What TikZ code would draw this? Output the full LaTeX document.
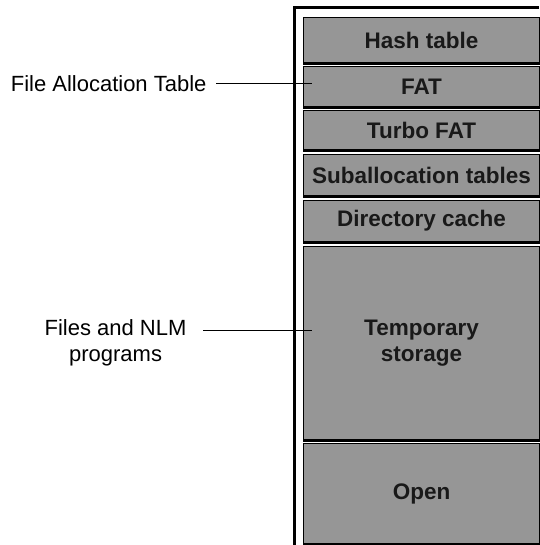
\documentclass[tikz,border=0pt]{standalone}
\usepackage{fontspec}
\setmainfont{Liberation Sans}
\usetikzlibrary{positioning}

\definecolor{slotgray}{RGB}{150,150,150}

\begin{document}
\begin{tikzpicture}[x=1pt,y=-1pt,
    slot/.style={rectangle,draw=black,line width=1pt,fill=slotgray,minimum width=236pt,inner sep=0pt,align=center,font=\fontsize{22.5}{26}\selectfont\bfseries,text=black!90},
    lbl/.style={align=center,font=\fontsize{22}{26}\selectfont},
    leader/.style={line width=1pt}]
    \useasboundingbox (0,0) rectangle (539,545);

    % outer frame
    \draw[line width=3pt] (294,545) -- (294,8) -- (539,8);

    \node[slot,minimum height=46pt,anchor=north west] (hash) at (303,17) {Hash table};
    \node[slot,minimum height=41pt,below=2pt of hash] (fat) {FAT};
    \node[slot,minimum height=40pt,below=2pt of fat] (turbo) {Turbo FAT};
    \node[slot,minimum height=42pt,below=3pt of turbo] (suballoc) {Suballocation tables};
    \node[slot,minimum height=41pt,below=3pt of suballoc] (dircache) {Directory cache};
    \node[slot,minimum height=193pt,below=4pt of dircache] (temp) {Temporary\\storage};
    \node[slot,minimum height=100pt,below=3pt of temp] (open) {Open};

    % dark bottom edges
    \foreach \n in {hash,fat,turbo,suballoc,dircache,temp,open}
        \draw[line width=3pt] (\n.south west) -- (\n.south east);

    \node[lbl,left=93pt of fat,yshift=3pt] (fatlbl) {File Allocation Table};
    \node[lbl,left=113pt of temp] (nlmlbl) {Files and NLM\\programs};

    \coordinate (fatout) at ([xshift=6pt]fatlbl.east);
    \coordinate (fatin) at ([xshift=9pt,yshift=3pt]fat.west);
    \coordinate (tempin) at ([xshift=9pt,yshift=13pt]temp.west);
    \coordinate (nlmout) at ([xshift=13pt]nlmlbl.east);

    \draw[leader] (fatout) -- (fatin);
    \draw[leader] (nlmout |- tempin) -- (tempin);
\end{tikzpicture}
\end{document}
